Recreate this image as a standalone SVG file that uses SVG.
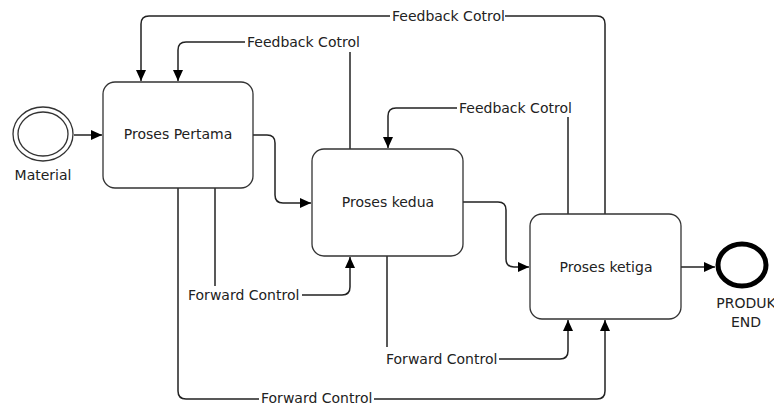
<svg xmlns="http://www.w3.org/2000/svg" width="774" height="405" viewBox="0 0 774 405">
<style>
.box{fill:#fff;stroke:#333;stroke-width:1.3}
.ln{fill:none;stroke:#222;stroke-width:1.5}
.t{font-family:"DejaVu Sans",sans-serif;font-size:14px;fill:#222}
.lbl{font-family:"DejaVu Sans",sans-serif;font-size:14px;fill:#222}
</style>
<defs>
<marker id="ah" markerUnits="userSpaceOnUse" markerWidth="12" markerHeight="10" refX="11" refY="5" orient="auto">
<path d="M0,0 L11,5 L0,10 Z" fill="#000"/>
</marker>
</defs>
<rect width="774" height="405" fill="#fff"/>
<g id="connectors">
<path class="ln" d="M74,135 H102" marker-end="url(#ah)"/>
<path class="ln" d="M253,135 H267 Q275,135 275,143 V195 Q275,203 283,203 H311" marker-end="url(#ah)"/>
<path class="ln" d="M463,202 H498 Q506,202 506,210 V259 Q506,267 514,267 H529" marker-end="url(#ah)"/>
<path class="ln" d="M681,267 H715" marker-end="url(#ah)"/>
<path class="ln" d="M605,214 V24 Q605,16 597,16 H505"/>
<path class="ln" d="M390,16 H149 Q141,16 141,24 V81" marker-end="url(#ah)"/>
<path class="ln" d="M350,149 V52"/>
<path class="ln" d="M245,42 H186 Q178,42 178,50 V81" marker-end="url(#ah)"/>
<path class="ln" d="M568,214 V117"/>
<path class="ln" d="M457,108 H396 Q388,108 388,116 V148" marker-end="url(#ah)"/>
<path class="ln" d="M215,188 V286"/>
<path class="ln" d="M302,295 H342 Q350,295 350,287 V257" marker-end="url(#ah)"/>
<path class="ln" d="M387,256 V347"/>
<path class="ln" d="M499,359 H560 Q568,359 568,351 V320" marker-end="url(#ah)"/>
<path class="ln" d="M178,188 V391 Q178,399 186,399 H259"/>
<path class="ln" d="M374,399 H597 Q605,399 605,391 V320" marker-end="url(#ah)"/>
<text class="lbl" x="392" y="21">Feedback Cotrol</text>
<text class="lbl" x="247" y="47">Feedback Cotrol</text>
<text class="lbl" x="459" y="113">Feedback Cotrol</text>
<text class="lbl" x="188" y="300">Forward Control</text>
<text class="lbl" x="386" y="364">Forward Control</text>
<text class="lbl" x="261" y="403">Forward Control</text>
</g>
<g id="start">
<ellipse cx="43" cy="134" rx="30" ry="27" fill="#fff" stroke="#333" stroke-width="1.3"/>
<ellipse cx="43" cy="134" rx="25" ry="22" fill="none" stroke="#333" stroke-width="1.3"/>
<text class="t" x="43" y="180" text-anchor="middle">Material</text>
</g>
<g id="proses-pertama">
<rect class="box" x="103" y="82" width="150" height="106" rx="12"/>
<text class="t" x="178" y="139" text-anchor="middle">Proses Pertama</text>
</g>
<g id="proses-kedua">
<rect class="box" x="312" y="149" width="151" height="107" rx="12"/>
<text class="t" x="388" y="207" text-anchor="middle">Proses kedua</text>
</g>
<g id="proses-ketiga">
<rect class="box" x="530" y="214" width="151" height="105" rx="12"/>
<text class="t" x="606" y="272" text-anchor="middle">Proses ketiga</text>
</g>
<g id="end">
<ellipse cx="742" cy="265" rx="24" ry="21" fill="#fff" stroke="#000" stroke-width="5"/>
<text class="t" x="746" y="308" text-anchor="middle">PRODUK</text>
<text class="t" x="746" y="327" text-anchor="middle">END</text>
</g>
</svg>
